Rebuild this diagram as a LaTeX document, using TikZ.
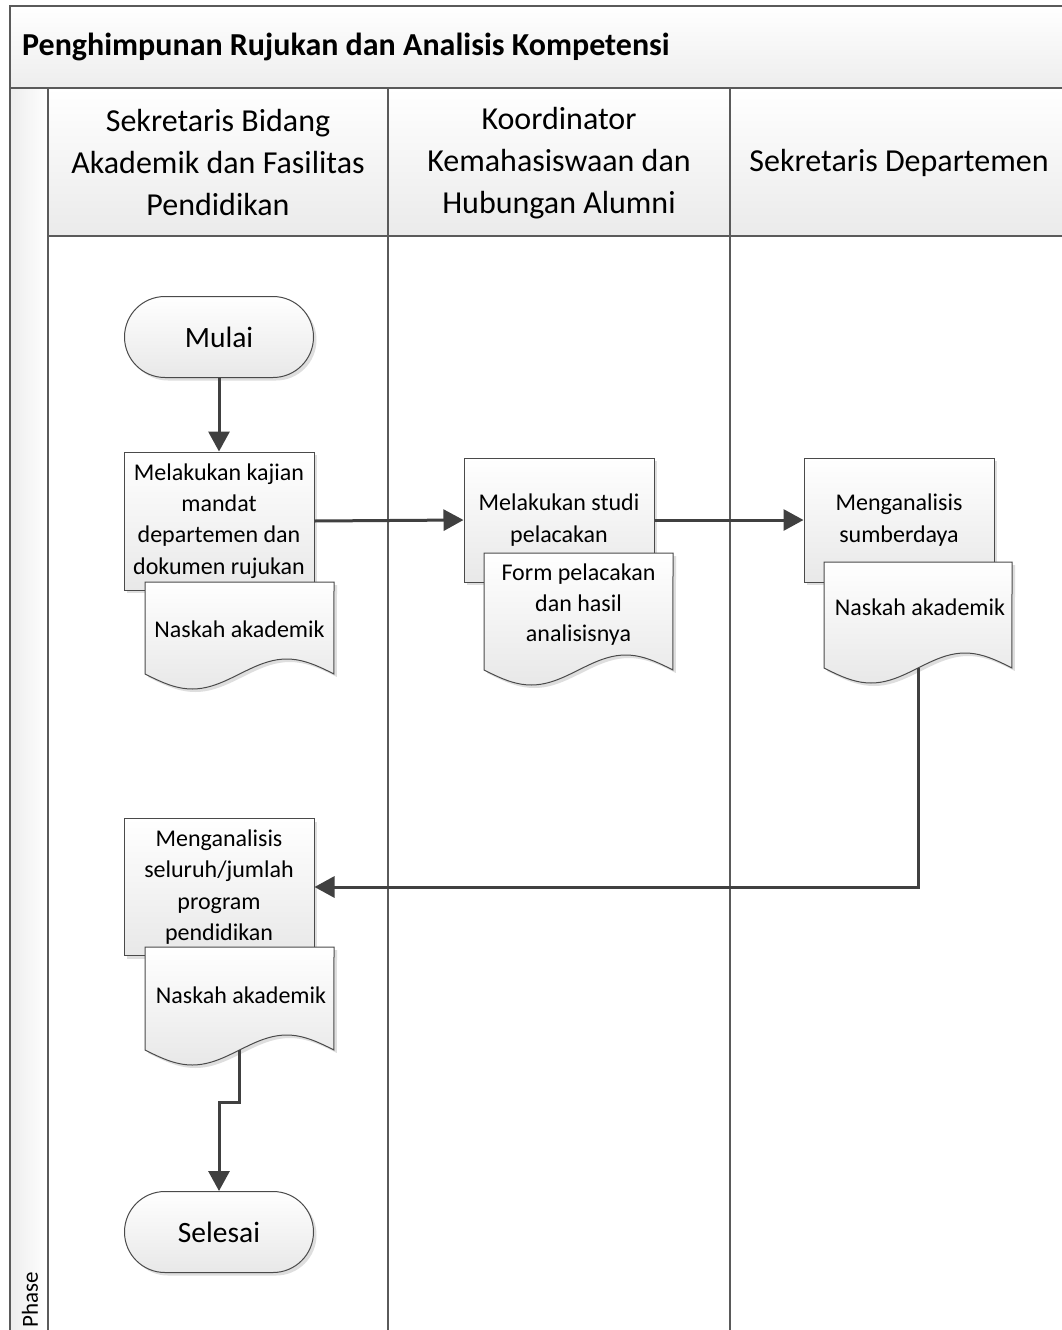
\documentclass[tikz,border=0pt]{standalone}
\usepackage{fontspec}
\setmainfont{Carlito}
\usetikzlibrary{arrows.meta,shapes.misc,shadows}
\definecolor{lanec}{HTML}{5A5A5A}
\definecolor{linec}{HTML}{404040}
\definecolor{shapec}{HTML}{4A4A4A}
\newcommand\mydoc[5]{%
  \path[docsty] (#1,#3) -- (#1,#4) -- plot[domain=0:1,samples=41,variable=\x] ({#1+\x*(#2-#1)},{#4+#5*sin(360*\x)}) -- (#2,#3) -- cycle;}
\begin{document}
\begin{tikzpicture}[x=1pt,y=-1pt,
  lane/.style={draw=lanec, line width=2.6pt},
  shshadow/.style={drop shadow={shadow xshift=3pt, shadow yshift=-3pt, fill=black!13, opacity=1}},
  proc/.style={draw=shapec, line width=1pt, top color=white, bottom color=black!9, shshadow,
    minimum width=190pt, align=center, font=\fontsize{24}{31.2}\selectfont, inner sep=0pt},
  term/.style={draw=shapec, line width=1pt, top color=white, bottom color=black!9, shshadow,
    rounded rectangle, minimum width=189pt, minimum height=81pt, inner sep=0pt,
    font=\fontsize{29.5}{34}\selectfont},
  docsty/.style={draw=shapec, line width=1pt, top color=white, bottom color=black!9, shshadow},
  doctext/.style={align=center, inner sep=0pt, font=\fontsize{24}{30.5}\selectfont},
  hdr/.style={align=center, inner sep=0pt, font=\fontsize{32}{42}\selectfont},
  conn/.style={draw=linec, line width=3pt, -{Triangle[length=20pt,width=21pt]}},
  connplain/.style={draw=linec, line width=3pt}
]
\clip (0,0) rectangle (1062,1330);
\fill[white] (0,0) rectangle (1062,1330);
% frame
\path[lane, top color=white, bottom color=black!7] (10,6) rectangle (1090,88);
\path[lane, left color=black!7, right color=white] (10,88) rectangle (48,1345);
\path[lane, top color=white, bottom color=black!8] (48,88) rectangle (1090,236);
\draw[lane] (48,236) -- (48,1345);
\draw[lane] (388,88) -- (388,1345);
\draw[lane] (730,88) -- (730,1345);
\draw[lane] (1068,88) -- (1068,1345);
\node[anchor=west, inner sep=0pt, font=\fontsize{32}{38}\selectfont\bfseries] (title) at (22,47) {Penghimpunan Rujukan dan Analisis Kompetensi};
\node[hdr] (h1) at (218,163) {Sekretaris Bidang\\Akademik dan Fasilitas\\Pendidikan};
\node[hdr] (h2) at (559,163) {Koordinator\\Kemahasiswaan dan\\Hubungan Alumni};
\node[hdr] (h3) at (899,163) {Sekretaris Departemen};
\node[rotate=90, anchor=west, inner sep=0pt, font=\fontsize{23}{26}\selectfont] (phase) at (30,1328) {Phase};
% shapes
\node[term] (mulai) at (219,337) {Mulai};
\node[proc, minimum height=138pt] (p1) at (219,521) {Melakukan kajian\\mandat\\departemen dan\\dokumen rujukan};
\mydoc{145}{334}{582}{674}{15}
\node[doctext] (d1) at (239.5,629) {Naskah akademik};
\node[proc, minimum height=124pt] (p2) at (559,520) {Melakukan studi\\pelacakan};
\mydoc{484}{673}{553}{670}{15}
\node[doctext] (d2) at (578.5,605) {Form pelacakan\\dan hasil\\analisisnya};
\node[proc, minimum height=124pt] (p3) at (899,520) {Menganalisis\\sumberdaya};
\mydoc{824}{1012}{562}{668}{15}
\node[doctext] (d3) at (920,607) {Naskah akademik};
\coordinate (d3b) at (918,668);
\node[proc, minimum height=137pt] (p4) at (219,887) {Menganalisis\\seluruh/jumlah\\program\\pendidikan};
\mydoc{145}{334}{947}{1050}{15}
\node[doctext] (d4) at (241,995) {Naskah akademik};
\coordinate (d4b) at (239.5,1050);
\coordinate (bend) at (239.5,1102);
\node[term] (selesai) at (219,1232) {Selesai};
% connectors
\draw[conn] (mulai.south) -- (p1.north);
\draw[conn] (p1.east) -- (p2.west);
\draw[conn] (p2.east) -- (p3.west);
\draw[conn] (d3b) |- (p4.east);
\draw[conn] (d4b) -- (bend) -| (selesai.north);
\end{tikzpicture}
\end{document}
